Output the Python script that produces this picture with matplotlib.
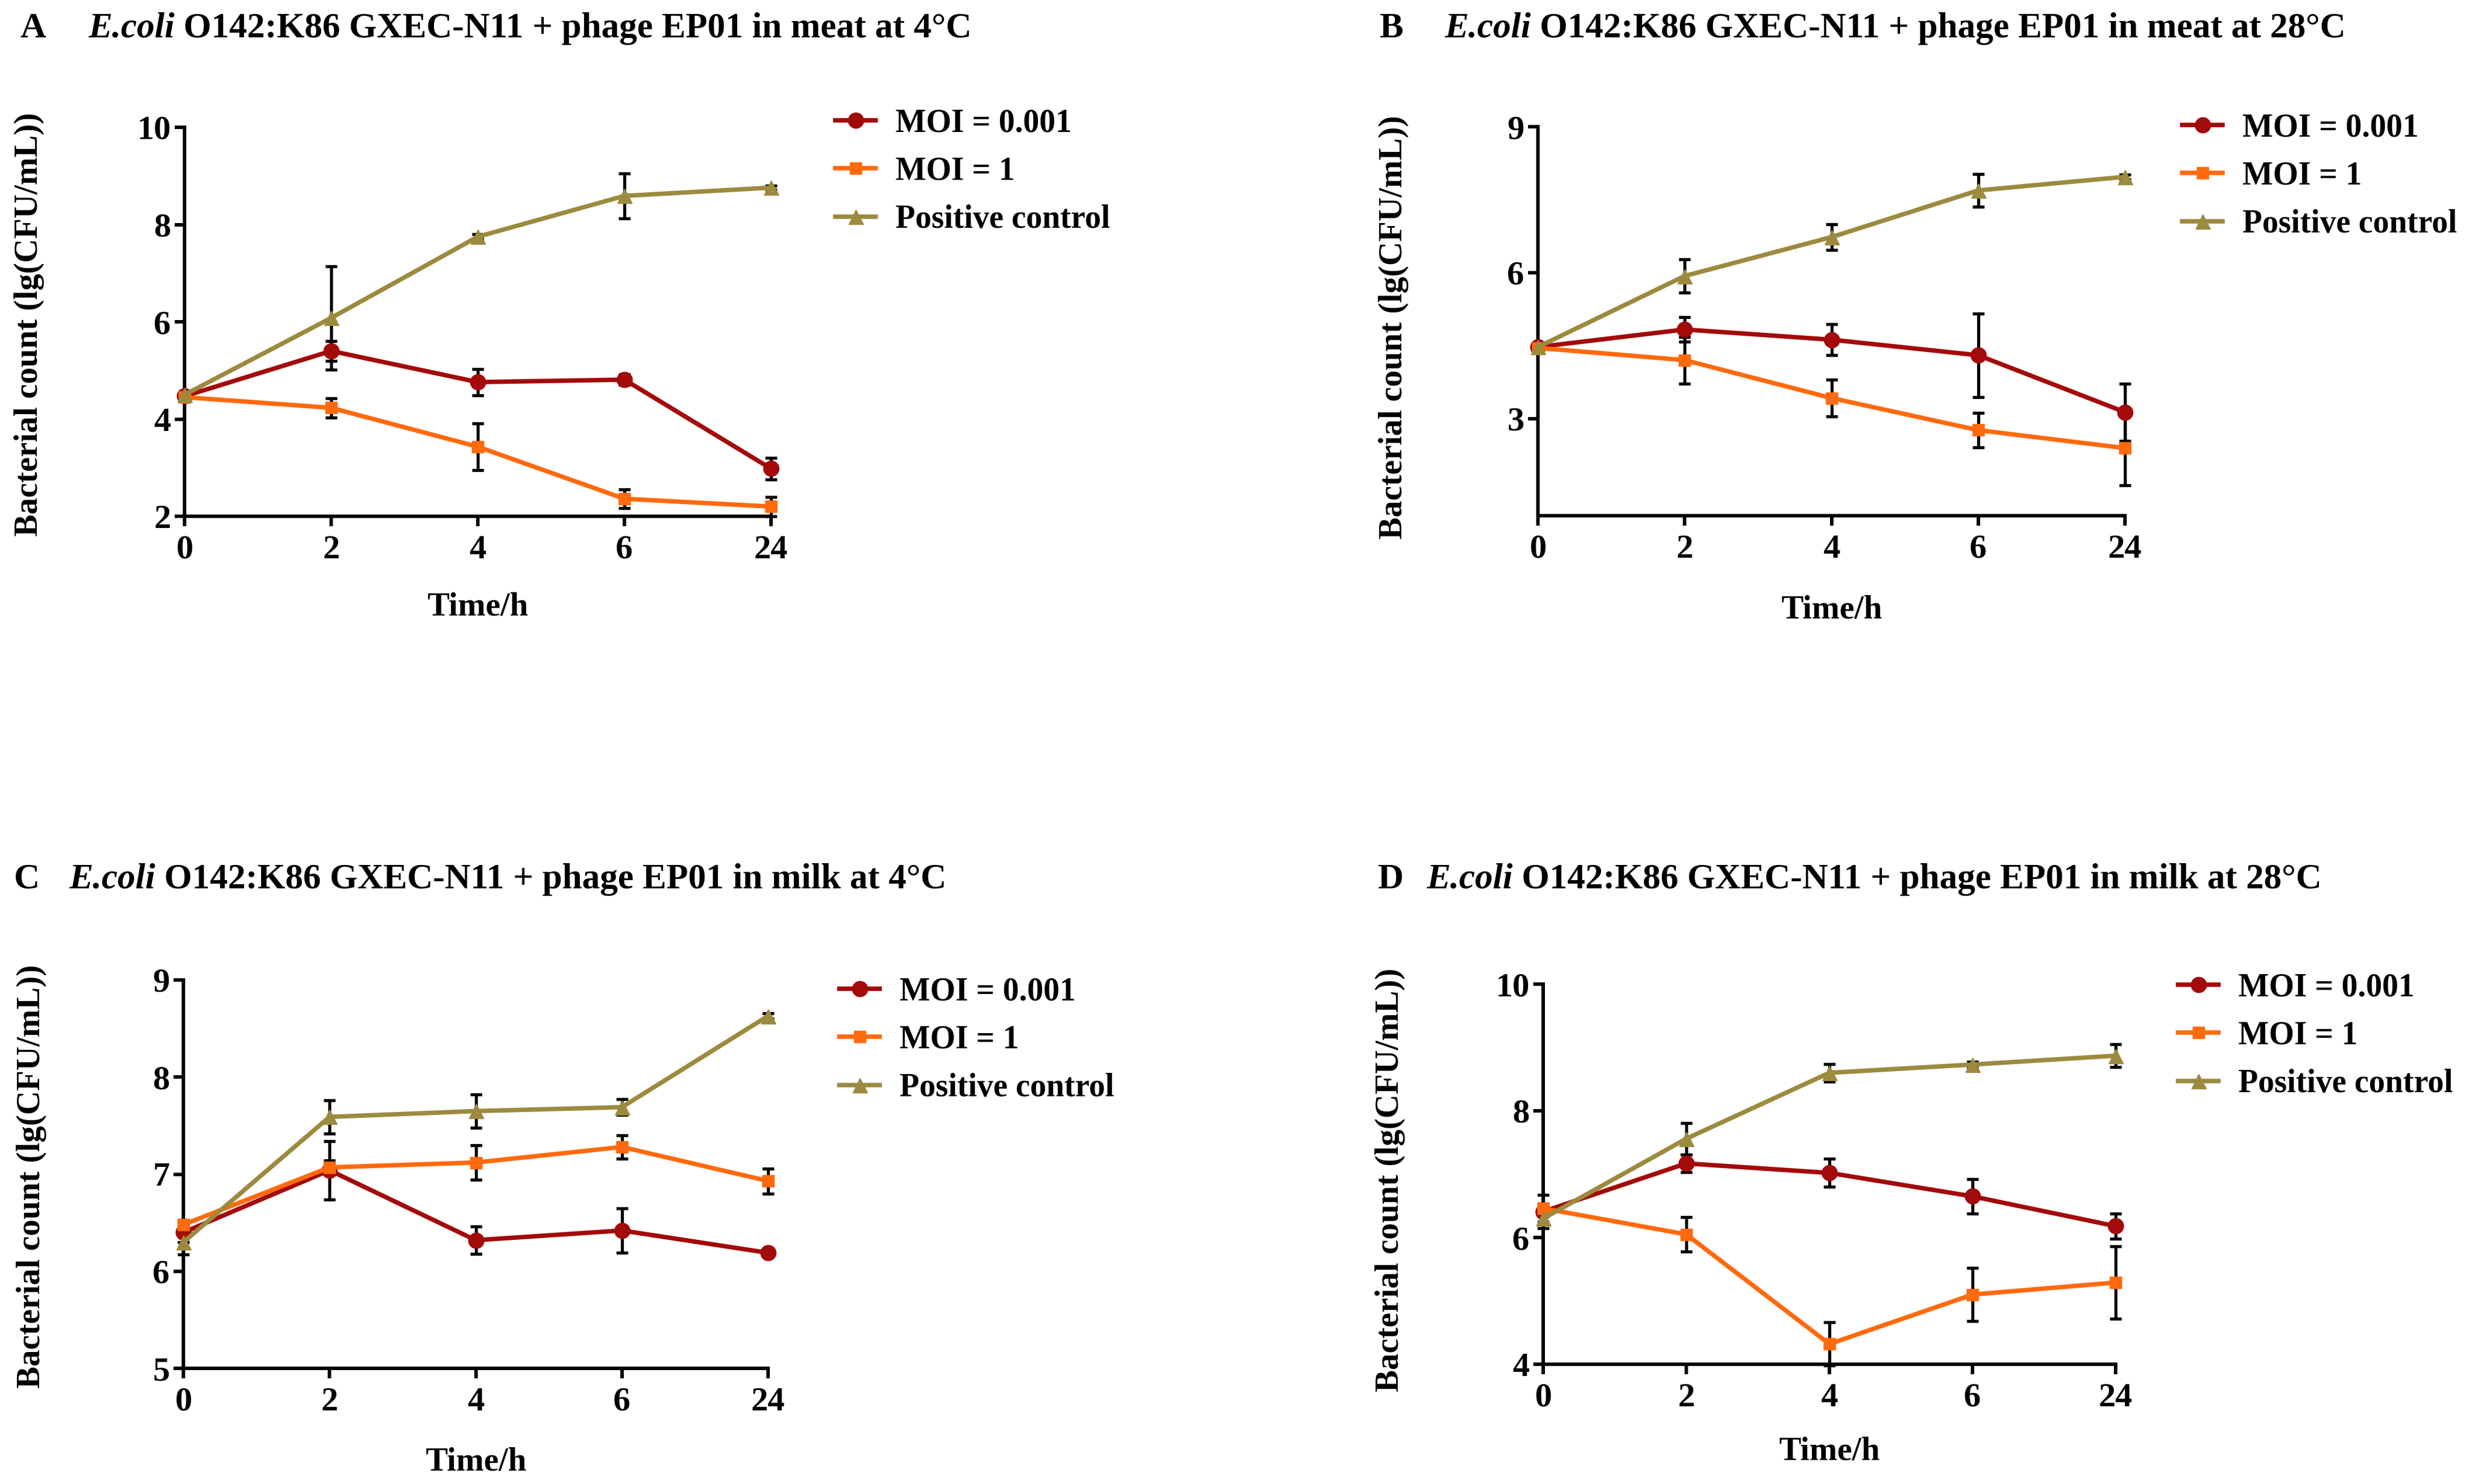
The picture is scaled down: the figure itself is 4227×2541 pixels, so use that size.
import matplotlib
matplotlib.use('Agg')
import matplotlib.pyplot as plt

# ---------------- data ----------------
time_labels = ['0', '2', '4', '6', '24']
series_names = ['MOI = 0.001', 'MOI = 1', 'Positive control']

titles_rest = [' O142:K86 GXEC-N11 + phage EP01 in meat at 4\u00b0C',
               ' O142:K86 GXEC-N11 + phage EP01 in meat at 28\u00b0C',
               ' O142:K86 GXEC-N11 + phage EP01 in milk at 4\u00b0C',
               ' O142:K86 GXEC-N11 + phage EP01 in milk at 28\u00b0C']
panel_letters = ['A', 'B', 'C', 'D']

# Panel A: meat 4 C
a_moi001 = [4.47, 5.40, 4.76, 4.81, 2.98]
a_moi001_err = [0.10, 0.20, 0.27, 0.11, 0.22]
a_moi1 = [4.45, 4.23, 3.43, 2.36, 2.20]
a_moi1_err = [0.05, 0.20, 0.48, 0.19, 0.20]
a_pc = [4.50, 6.08, 7.75, 8.59, 8.76]
a_pc_err = [0.05, 1.06, 0.05, 0.46, 0.04]

# Panel B: meat 28 C
b_moi001 = [4.47, 4.83, 4.62, 4.30, 3.13]
b_moi001_err = [0.08, 0.25, 0.32, 0.86, 0.59]
b_moi1 = [4.45, 4.20, 3.42, 2.76, 2.39]
b_moi1_err = [0.05, 0.48, 0.38, 0.35, 0.77]
b_pc = [4.47, 5.93, 6.73, 7.69, 7.97]
b_pc_err = [0.05, 0.34, 0.27, 0.34, 0.05]

# Panel C: milk 4 C
c_moi001 = [6.40, 7.04, 6.32, 6.42, 6.19]
c_moi001_err = [0.10, 0.30, 0.14, 0.23, 0.03]
c_moi1 = [6.48, 7.07, 7.12, 7.28, 6.93]
c_moi1_err = [0.05, 0.07, 0.18, 0.12, 0.13]
c_pc = [6.30, 7.59, 7.65, 7.69, 8.63]
c_pc_err = [0.13, 0.17, 0.17, 0.08, 0.03]

# Panel D: milk 28 C
d_moi001 = [6.41, 7.17, 7.02, 6.65, 6.18]
d_moi001_err = [0.26, 0.14, 0.22, 0.27, 0.20]
d_moi1 = [6.46, 6.05, 4.32, 5.10, 5.29]
d_moi1_err = [0.07, 0.27, 0.34, 0.42, 0.57]
d_pc = [6.30, 7.56, 8.60, 8.73, 8.87]
d_pc_err = [0.05, 0.25, 0.14, 0.04, 0.18]

a_yticks = [2, 4, 6, 8, 10]
b_yticks = [3, 6, 9]
c_yticks = [5, 6, 7, 8, 9]
d_yticks = [4, 6, 8, 10]

# ---------------- style ----------------
W, H, DPI = 4227, 2541, 100
plt.rcParams['font.family'] = ['Liberation Serif', 'DejaVu Serif']
plt.rcParams['font.weight'] = 'bold'

colors = ['#A30A0A', '#FF6A0D', '#9C8A3F']
markers = ['o', 's', '^']
msizes = [19, 15, 18]

TICK_FS = 42
LABEL_FS = 41
TITLE_FS = 44
LEG_FS = 40
LW_AX = 4.3

fig = plt.figure(figsize=(W / DPI, H / DPI), dpi=DPI)
renderer = fig.canvas.get_renderer()


def fx(px):
    return px / W


def fy(py):
    return 1 - py / H


panels = [
    dict(box=(316, 1320, 218, 884), ylim=(2, 10), yticks=a_yticks,
         data=[(a_moi001, a_moi001_err), (a_moi1, a_moi1_err), (a_pc, a_pc_err)],
         title=(34, 151, 49), ylab=(50, 555), xlab=1040, leg=(1430, 209)),
    dict(box=(2633, 3638, 217, 883), ylim=(1, 9), yticks=b_yticks,
         data=[(b_moi001, b_moi001_err), (b_moi1, b_moi1_err), (b_pc, b_pc_err)],
         title=(2362, 2473, 49), ylab=(2386, 560), xlab=1045, leg=(3736, 217)),
    dict(box=(314, 1315, 1678, 2343), ylim=(5, 9), yticks=c_yticks,
         data=[(c_moi001, c_moi001_err), (c_moi1, c_moi1_err), (c_pc, c_pc_err)],
         title=(24, 118, 1506), ylab=(54, 2014), xlab=2503, leg=(1437, 1696)),
    dict(box=(2642, 3622, 1685, 2336), ylim=(4, 10), yticks=d_yticks,
         data=[(d_moi001, d_moi001_err), (d_moi1, d_moi1_err), (d_pc, d_pc_err)],
         title=(2359, 2442, 1506), ylab=(2380, 2020), xlab=2486, leg=(3729, 1689)),
]

xpos = list(range(len(time_labels)))

for i, p in enumerate(panels):
    x0, x1, yt, yb = p['box']
    ax = fig.add_axes([fx(x0), fy(yb), (x1 - x0) / W, (yb - yt) / H])
    handles = []
    for (vals, errs), col, mk, ms, name in zip(p['data'], colors, markers, msizes, series_names):
        ax.errorbar(xpos, vals, yerr=errs, fmt='none', ecolor='black',
                    elinewidth=3.8, capsize=7, capthick=3.8, zorder=2, clip_on=False)
        ln, = ax.plot(xpos, vals, color=col, marker=mk, markersize=ms, lw=5.5,
                      zorder=3, clip_on=False, label=name)
        handles.append(ln)
    ax.set_xlim(0, len(time_labels) - 1)
    ax.set_ylim(*p['ylim'])
    ax.set_xticks(xpos)
    ax.set_xticklabels(time_labels)
    ax.set_yticks(p['yticks'])
    for s in ['top', 'right']:
        ax.spines[s].set_visible(False)
    for s in ['left', 'bottom']:
        ax.spines[s].set_linewidth(LW_AX)
    ax.tick_params(axis='both', length=12, width=LW_AX, labelsize=TICK_FS)
    ax.tick_params(axis='x', pad=11)
    ax.tick_params(axis='y', pad=5)
    for lab in ax.get_xticklabels() + ax.get_yticklabels():
        lab.set_fontweight('bold')

    # title
    lx, ex, ty = p['title']
    fig.text(fx(lx), fy(ty), panel_letters[i], fontsize=TITLE_FS, weight='bold',
             ha='left', va='center')
    t1 = fig.text(fx(ex), fy(ty), 'E.coli', fontsize=TITLE_FS, weight='bold',
                  style='italic', ha='left', va='center')
    bb = t1.get_window_extent(renderer)
    fig.text(bb.x1 / W, fy(ty), titles_rest[i], fontsize=TITLE_FS, weight='bold',
             ha='left', va='center')

    # axis labels
    fig.text(fx(p['ylab'][0]), fy(p['ylab'][1]), 'Bacterial count (lg(CFU/mL))',
             rotation=90, fontsize=LABEL_FS, weight='bold', ha='center', va='center')
    fig.text(fx((x0 + x1) / 2), fy(p['xlab']), 'Time/h', fontsize=LABEL_FS,
             weight='bold', ha='center', va='center')

    # legend
    lgx, lgy = p['leg']
    ax.legend(handles=handles, loc='upper left',
              bbox_to_anchor=(fx(lgx), fy(lgy - 24)), bbox_transform=fig.transFigure,
              frameon=False, borderpad=0, borderaxespad=0, handlelength=1.25,
              handletextpad=0.6, labelspacing=0.55, prop={'size': LEG_FS, 'weight': 'bold'})

fig.savefig('out.png', dpi=DPI, facecolor='white')
